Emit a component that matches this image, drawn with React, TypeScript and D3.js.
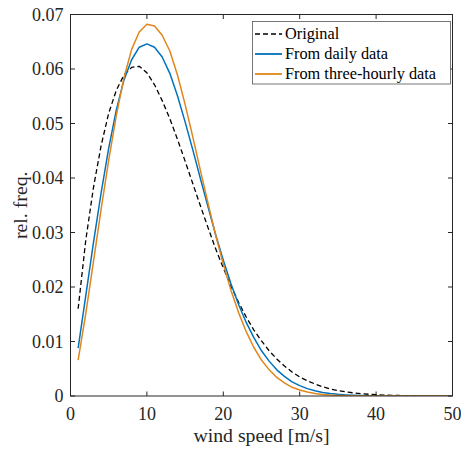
import React from "react";
import * as d3 from "d3";

const windSpeed = [1,2,3,4,5,6,7,8,9,10,11,12,13,14,15,16,17,18,19,20,21,22,23,24,25,26,27,28,29,30,31,32,33,34,35,36,37,38,39,40,41,42,43,44,45,46,47,48,49,50];

const original = [0.0160,0.0286,0.0382,0.0459,0.0519,0.0561,0.0589,0.0603,0.0605,0.0593,0.0571,0.0542,0.0509,0.0471,0.0431,0.0390,0.0349,0.0309,0.0270,0.0235,0.0202,0.0172,0.0145,0.0121,0.0101,0.0083,0.0068,0.0055,0.0044,0.0035,0.0028,0.0022,0.0017,0.0013,0.0010,0.00076,0.00058,0.00043,0.00032,0.00024,0.00017,0.00013,0.00009,0.00006,0.00005,0.00003,0.00002,0.00002,0.00001,0.00001];

const fromDaily = [0.0088,0.0184,0.0281,0.0372,0.0455,0.0525,0.0580,0.0617,0.0640,0.0646,0.0640,0.0622,0.0592,0.0551,0.0503,0.0452,0.0399,0.0347,0.0296,0.0249,0.0206,0.0168,0.0135,0.0107,0.0083,0.0064,0.0048,0.0036,0.0026,0.0019,0.00135,0.00095,0.00066,0.00045,0.0003,0.0002,0.00013,0.00008,0.00005,0.00003,0.00002,0.00001,0.00001,0,0,0,0,0,0,0];

const fromThreeHourly = [0.0066,0.0151,0.0246,0.0342,0.0433,0.0515,0.0584,0.0636,0.0668,0.0682,0.0679,0.0662,0.0633,0.0589,0.0535,0.0476,0.0414,0.0354,0.0295,0.0242,0.0194,0.0153,0.0118,0.0089,0.0066,0.0048,0.0034,0.0024,0.0016,0.0011,0.00072,0.00046,0.00029,0.00018,0.00011,0.00006,0.00004,0.00002,0.00001,0,0,0,0,0,0,0,0,0,0,0];

const xTicks = [0, 10, 20, 30, 40, 50];
const yTicks = [0, 0.01, 0.02, 0.03, 0.04, 0.05, 0.06, 0.07];
const yTickLabels = ["0", "0.01", "0.02", "0.03", "0.04", "0.05", "0.06", "0.07"];

const seriesNames = ["Original", "From daily data", "From three-hourly data"];
const seriesColors = ["#000000", "#0072BD", "#E0861C"];
const seriesDash = ["5,3", null, null];
const seriesValues = [original, fromDaily, fromThreeHourly];

const W = 461, H = 450;
const L = 70.5, R = 452.5, T = 14.5, B = 396;
const FONT = "'Liberation Serif', 'Times New Roman', serif";
const AX = "#262626";

export default function App() {
  const x = d3.scaleLinear().domain([0, 50]).range([L, R]);
  const y = d3.scaleLinear().domain([0, 0.07]).range([B, T]);
  const line = d3.line<[number, number]>().x(d => x(d[0])).y(d => y(d[1]));
  const tl = 4.5;

  return (
    <svg width={W} height={H} style={{ position: "absolute", left: 0, top: 0, background: "#fff" }}>
      <defs>
        <clipPath id="plotclip">
          <rect x={L} y={T} width={R - L} height={B - T} />
        </clipPath>
      </defs>
      <rect x={0} y={0} width={W} height={H} fill="#fff" />
      <g clipPath="url(#plotclip)">
        {seriesValues.map((vals, i) => (
          <path
            key={i}
            d={line(windSpeed.map((w, j) => [w, vals[j]] as [number, number])) || ""}
            fill="none"
            stroke={seriesColors[i]}
            strokeWidth={i === 0 ? 1.3 : 1.5}
            strokeDasharray={seriesDash[i] || undefined}
            strokeLinejoin="round"
          />
        ))}
      </g>
      <rect x={L} y={T} width={R - L} height={B - T} fill="none" stroke={AX} strokeWidth={1} />
      {xTicks.map(t => (
        <g key={"x" + t}>
          <line x1={x(t)} x2={x(t)} y1={B} y2={B - tl} stroke={AX} />
          <line x1={x(t)} x2={x(t)} y1={T} y2={T + tl} stroke={AX} />
          <text x={x(t)} y={420} textAnchor="middle" fontFamily={FONT} fontSize={18} fill={AX}>{t}</text>
        </g>
      ))}
      {yTicks.map((t, i) => (
        <g key={"y" + t}>
          <line x1={L} x2={L + tl} y1={y(t)} y2={y(t)} stroke={AX} />
          <line x1={R} x2={R - tl} y1={y(t)} y2={y(t)} stroke={AX} />
          <text x={63.5} y={y(t)} dy="0.35em" textAnchor="end" fontFamily={FONT} fontSize={18} fill={AX}>{yTickLabels[i]}</text>
        </g>
      ))}
      <text x={(L + R) / 2} y={442} textAnchor="middle" fontFamily={FONT} fontSize={19.8} fill={AX}>wind speed [m/s]</text>
      <text transform={`translate(27,${(T + B) / 2}) rotate(-90)`} textAnchor="middle" fontFamily={FONT} fontSize={19.8} fill={AX}>rel. freq.</text>
      <g>
        <rect x={252.5} y={21.5} width={198} height={62.5} fill="#fff" stroke="#555" strokeWidth={0.8} />
        {seriesNames.map((n, i) => {
          const cy = 34 + i * 20;
          return (
            <g key={n}>
              <line x1={255} x2={282} y1={cy} y2={cy} stroke={seriesColors[i]} strokeWidth={i === 0 ? 1.3 : 1.8} strokeDasharray={seriesDash[i] || undefined} />
              <text x={285} y={cy} dy="0.33em" fontFamily={FONT} fontSize={16.3} fill="#000">{n}</text>
            </g>
          );
        })}
      </g>
    </svg>
  );
}
